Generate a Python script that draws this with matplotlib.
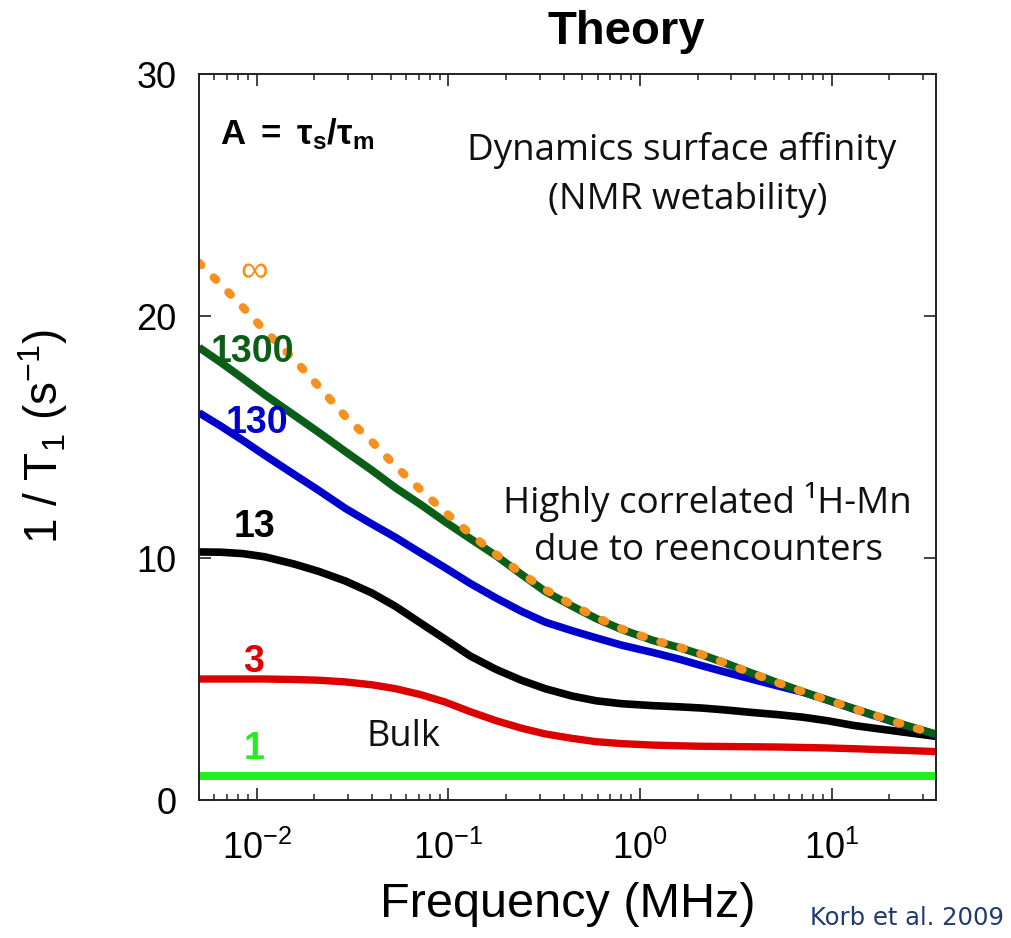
import matplotlib
matplotlib.use("Agg")
import matplotlib.pyplot as plt
from matplotlib.ticker import LogLocator, LogFormatterMathtext, NullFormatter, FixedLocator

plt.rcParams['font.family'] = ['Liberation Sans', 'DejaVu Sans']
plt.rcParams['mathtext.fontset'] = 'custom'
plt.rcParams['mathtext.rm'] = 'Liberation Sans'
plt.rcParams['mathtext.it'] = 'Liberation Sans:italic'
plt.rcParams['mathtext.bf'] = 'Liberation Sans:bold'
plt.rcParams['mathtext.default'] = 'regular'
plt.rcParams['axes.unicode_minus'] = False

# ---- data ----
freq = [0.005, 0.0065, 0.0085, 0.011, 0.0157, 0.021, 0.029, 0.04, 0.053, 0.072,
        0.096, 0.13, 0.177, 0.24, 0.32, 0.44, 0.59, 0.8, 1.16, 1.6,
        2.1, 2.8, 3.8, 5.2, 7.1, 9.6, 13, 18, 24, 35]
bulk = [1.0, 1.0, 1.0, 1.0, 1.0, 1.0, 1.0, 1.0, 1.0, 1.0,
        1.0, 1.0, 1.0, 1.0, 1.0, 1.0, 1.0, 1.0, 1.0, 1.0,
        1.0, 1.0, 1.0, 1.0, 1.0, 1.0, 1.0, 1.0, 1.0, 1.0]
a3 = [5.0, 5.0, 5.0, 5.0, 4.98, 4.95, 4.88, 4.76, 4.6, 4.35,
      4.05, 3.65, 3.28, 2.97, 2.73, 2.55, 2.41, 2.33, 2.27, 2.24,
      2.22, 2.21, 2.2, 2.19, 2.17, 2.15, 2.12, 2.08, 2.05, 2.0]
a13 = [10.25, 10.24, 10.18, 10.05, 9.75, 9.45, 9.05, 8.55, 8.0, 7.3,
       6.65, 5.95, 5.4, 4.95, 4.6, 4.3, 4.1, 3.98, 3.9, 3.85,
       3.8, 3.72, 3.62, 3.53, 3.42, 3.27, 3.08, 2.93, 2.8, 2.63]
a130 = [16.0, 15.45, 14.85, 14.25, 13.45, 12.8, 12.05, 11.4, 10.85, 10.2,
        9.6, 8.95, 8.35, 7.8, 7.35, 7.0, 6.7, 6.4, 6.1, 5.82,
        5.55, 5.28, 5.0, 4.72, 4.45, 4.12, 3.76, 3.4, 3.08, 2.7]
a1300 = [18.7, 18.08, 17.41, 16.75, 15.9, 15.2, 14.4, 13.62, 12.9, 12.2,
         11.5, 10.8, 10.1, 9.33, 8.62, 8.02, 7.5, 7.05, 6.6, 6.3,
         6.0, 5.65, 5.25, 4.85, 4.47, 4.12, 3.78, 3.42, 3.1, 2.72]
ainf = [22.2, 21.3, 20.35, 19.4, 18.2, 17.1, 15.85, 14.8, 13.8, 12.8,
        11.9, 11.0, 10.15, 9.37, 8.7, 8.07, 7.55, 7.08, 6.62, 6.32,
        6.02, 5.65, 5.25, 4.85, 4.47, 4.12, 3.78, 3.42, 3.1, 2.72]

yticks = [0, 10, 20, 30]
xlim = (0.005, 35)
ylim = (0, 30)

C_BULK = '#22EE22'
C_3 = '#DD0000'
C_13 = '#000000'
C_130 = '#0000CC'
C_1300 = '#0B5E18'
C_INF = '#F7911E'

fig = plt.figure(figsize=(10.11, 9.38), dpi=100)
ax = fig.add_axes([199/1011, 1-800/938, (936-199)/1011, (800-74)/938])

ax.plot(freq, bulk, color=C_BULK, lw=5.8, solid_capstyle='butt')
ax.plot(freq, a3, color=C_3, lw=5.3, solid_capstyle='butt', solid_joinstyle='round')
ax.plot(freq, a13, color=C_13, lw=5.5, solid_capstyle='butt', solid_joinstyle='round')
ax.plot(freq, a130, color=C_130, lw=5.5, solid_capstyle='butt', solid_joinstyle='round')
ax.plot(freq, a1300, color=C_1300, lw=5.6, solid_capstyle='butt', solid_joinstyle='round')
ax.plot(freq, ainf, color=C_INF, lw=6.0, dashes=(0.4, 2.1), dash_capstyle='round')

ax.set_xscale('log')
ax.set_xlim(*xlim)
ax.set_ylim(*ylim)
ax.yaxis.set_major_locator(FixedLocator(yticks))
ax.xaxis.set_major_locator(LogLocator(base=10, numticks=20))
ax.xaxis.set_minor_locator(LogLocator(base=10, subs=range(2, 10), numticks=20))
ax.xaxis.set_major_formatter(LogFormatterMathtext())
ax.xaxis.set_minor_formatter(NullFormatter())

for s in ax.spines.values():
    s.set_linewidth(1.4)
    s.set_color('#222222')

ax.tick_params(which='major', direction='in', length=8.5, width=1.2, top=True, right=True,
               labelsize=26, color='#222222')
ax.tick_params(which='minor', direction='in', length=4, width=1.1, top=True, right=True,
               color='#222222')
ax.tick_params(axis='y', pad=16)
ax.tick_params(axis='x', pad=22)

ax.set_ylabel(r'1 / T$_1$ (s$^{-1}$)', fontsize=33)
ax.yaxis.set_label_coords(-0.175, 0.5)
ax.set_xlabel('Frequency (MHz)', fontsize=35)
ax.xaxis.set_label_coords(0.5, -0.113)

fig.text(626/1011, 1-32/938, 'Theory', fontsize=34, fontweight='bold', ha='center', va='center')

def fx(px):
    return (px-199)/737

def fy(py):
    return (800-py)/726

T = ax.transAxes
ax.text(fx(220), fy(144), r'$\mathbf{A\ =\ \tau_s/\tau_m}$', fontsize=25, transform=T,
        ha='left', va='baseline')

cal = ['Open Sans', 'DejaVu Sans']
ax.text(fx(682), fy(150), 'Dynamics surface affinity', family=cal, fontsize=26.5,
        transform=T, ha='center', va='center', color='#111111')
ax.text(fx(688), fy(200), '(NMR wetability)', family=cal, fontsize=26.5,
        transform=T, ha='center', va='center', color='#111111')
ax.text(fx(707), fy(502), 'Highly correlated \u00b9H-Mn', family=cal, fontsize=26.5,
        transform=T, ha='center', va='center', color='#111111')
ax.text(fx(709), fy(551), 'due to reencounters', family=cal, fontsize=26.5,
        transform=T, ha='center', va='center', color='#111111')
ax.text(fx(403), fy(737), 'Bulk', family=cal, fontsize=26,
        transform=T, ha='center', va='center', color='#111111')

ax.text(fx(254), fy(272), '\u221e', fontsize=28, color=C_INF, transform=T,
        ha='center', va='center')
ax.text(fx(252), fy(352), '1300', fontsize=27, fontweight='bold', color=C_1300,
        transform=T, ha='center', va='center')
ax.text(fx(257), fy(423), '130', fontsize=27, fontweight='bold', color=C_130,
        transform=T, ha='center', va='center')
ax.text(fx(255), fy(527), '13', fontsize=27, fontweight='bold', color=C_13,
        transform=T, ha='center', va='center')
ax.text(fx(254), fy(662), '3', fontsize=27, fontweight='bold', color=C_3,
        transform=T, ha='center', va='center')
ax.text(fx(254), fy(749), '1', fontsize=27, fontweight='bold', color=C_BULK,
        transform=T, ha='center', va='center')

fig.text(907/1011, 1-918/938, 'Korb et al. 2009', fontsize=17.5, color='#1F3A6E',
         ha='center', va='center', family=['DejaVu Sans'])

fig.savefig('out.png', dpi=100)
